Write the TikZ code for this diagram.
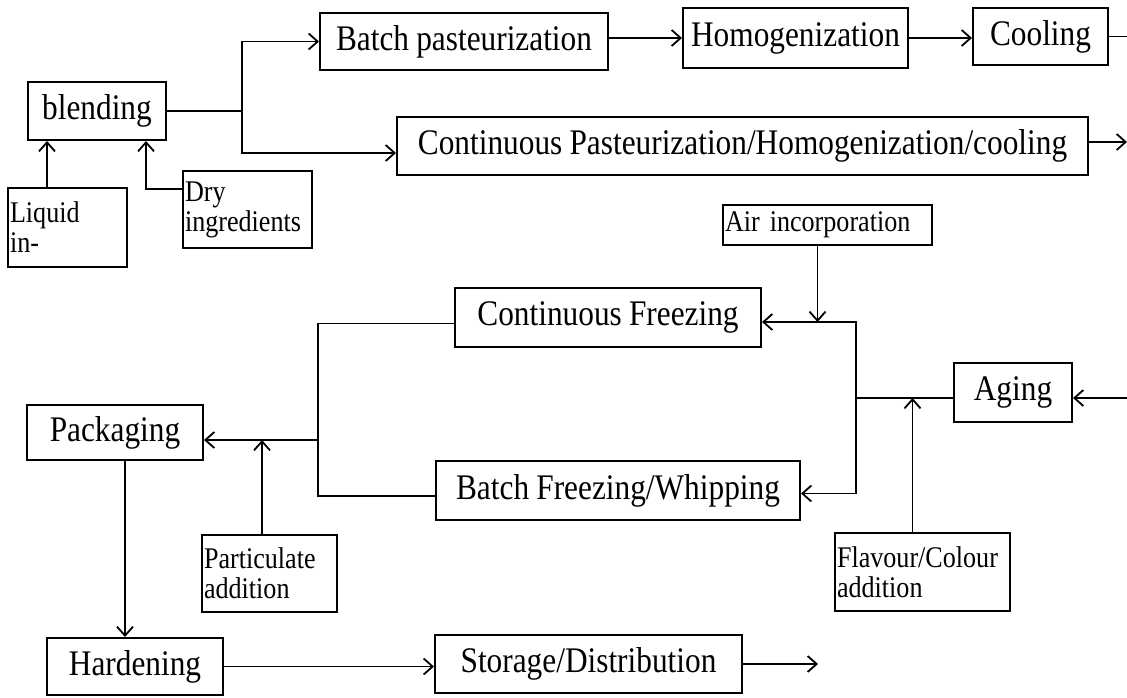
\documentclass[tikz,border=0pt]{standalone}
\usepackage{fontspec}
\setmainfont{Liberation Serif}[FakeStretch=0.87,WordSpace=0.92]
\usepackage{tikz}
\usetikzlibrary{arrows.meta}

\begin{document}
\begin{tikzpicture}[x=1pt,y=-1pt,>={Straight Barb[length=9pt,width=16pt,line width=1.8pt]},line width=1.8pt]
  \tikzstyle{blk}=[draw,line width=2pt,inner sep=0pt,align=center,
    font=\fontsize{36}{38}\selectfont]
  \tikzstyle{tag}=[draw,line width=2pt,inner xsep=2pt,inner ysep=0pt,align=left,
    font=\fontsize{30}{30}\selectfont]
  \useasboundingbox (0,0) rectangle (1127,698);
  \node[blk,minimum width=138pt,minimum height=58pt] (blend) at (97,111) {blending};
  \node[tag,text width=115pt,minimum height=79pt] (liquid) at (67.5,227.5) {Liquid\\in-};
  \node[tag,text width=125pt,minimum height=77pt] (dry) at (247.5,209.5) {Dry\\ingredients};
  \node[blk,minimum width=288pt,minimum height=57pt] (batchp) at (464,41.5) {Batch pasteurization};
  \node[blk,minimum width=225pt,minimum height=60pt] (homog) at (795.5,38) {Homogenization};
  \node[blk,minimum width=135pt,minimum height=57pt] (cool) at (1040.5,36.5) {Cooling};
  \node[blk,minimum width=691pt,minimum height=58pt] (contp) at (742.5,146) {Continuous Pasteurization/Homogenization/cooling};
  \node[tag,text width=205pt,minimum height=40pt] (air) at (827.5,225) {Air incorporation};
  \node[blk,minimum width=306pt,minimum height=59pt] (contf) at (608,317.5) {Continuous Freezing};
  \node[blk,minimum width=118pt,minimum height=59pt] (aging) at (1013,392.5) {Aging};
  \node[blk,minimum width=364pt,minimum height=59pt] (bfreeze) at (618,490.5) {Batch Freezing/Whipping};
  \node[blk,minimum width=176pt,minimum height=55pt] (pack) at (115,432.5) {Packaging};
  \node[tag,text width=131pt,minimum height=77pt] (partic) at (269.5,573.5) {Particulate\\addition};
  \node[tag,text width=171pt,minimum height=78pt] (flav) at (922.5,572) {Flavour/Colour\\addition};
  \node[blk,minimum width=176pt,minimum height=57pt] (hard) at (135,666.5) {Hardening};
  \node[blk,minimum width=307pt,minimum height=58pt] (store) at (588.5,664) {Storage/Distribution};
  \coordinate (liqin) at ([xshift=20pt]blend.south west);
  \coordinate (dryin) at ([xshift=-21pt]blend.south east);
  \coordinate (fork) at (242,111);
  \coordinate (coolout) at (1127,36.5);
  \coordinate (contout) at (1127,142);
  \coordinate (agein) at (1127,398);
  \coordinate (busR) at (856,398);
  \coordinate (cfin) at ([yshift=-4.5pt]contf.east);
  \coordinate (airin) at ([xshift=-10pt]air.south);
  \coordinate (flavin) at ([xshift=-10pt]flav.north);
  \coordinate (busL) at (318,440);
  \coordinate (partin) at ([xshift=-7.5pt]partic.north);
  \coordinate (packout) at ([xshift=10pt]pack.south);
  \coordinate (storeout) at (818,664);
  \draw[->] (liqin |- liquid.north) -- (liqin);
  \draw[->] ([yshift=-19pt]dry.north west) -| (dryin);
  \draw (blend.east) -- (fork);
  \draw[->] (fork) |- (batchp.west);
  \draw[->] (fork) |- ([yshift=-7pt]contp.west);
  \draw[->] (batchp.east |- homog.west) -- (homog.west);
  \draw[->] (homog.east) -- (cool.west |- homog.east);
  \draw (cool.east) -- (coolout);
  \draw[->] (contp.east |- contout) -- (contout);
  \draw[->] (agein) -- (aging.east |- agein);
  \draw (aging.west |- busR) -- (busR);
  \draw[->] (busR) |- (cfin);
  \draw[->] (busR) |- ([yshift=-3pt]bfreeze.east);
  \draw[->] (airin) -- (airin |- cfin);
  \draw[->] (flavin) -- (flavin |- busR);
  \draw ([yshift=-6pt]contf.west) -| (busL);
  \draw ([yshift=-5.5pt]bfreeze.west) -| (busL);
  \draw[->] (busL) -- (pack.east |- busL);
  \draw[->] (partin) -- (partin |- busL);
  \draw[->] (packout) -- (packout |- hard.north);
  \draw[->] (hard.east) -- (store.west |- hard.east);
  \draw[->] (store.east) -- (storeout);
\end{tikzpicture}
\end{document}
